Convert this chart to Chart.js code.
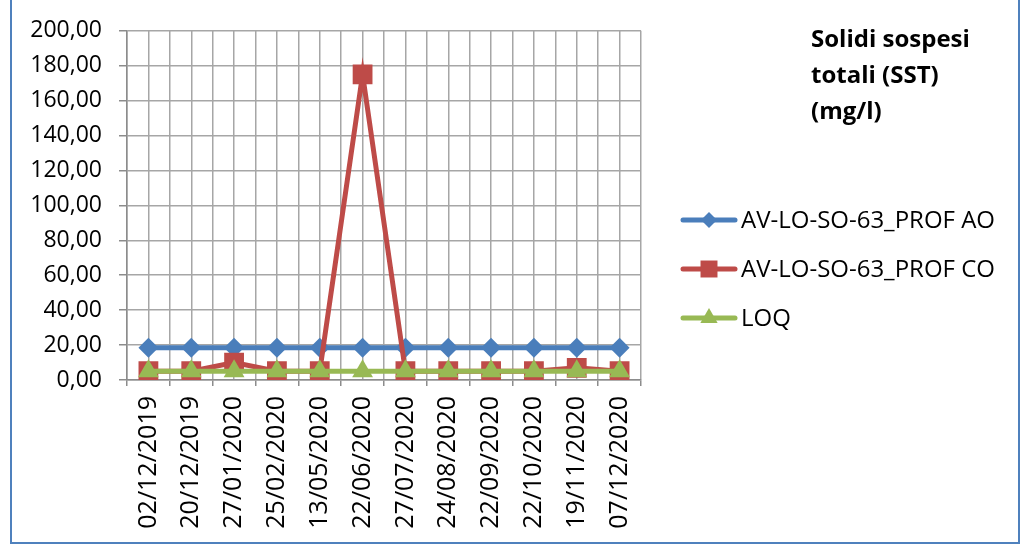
<!doctype html>
<html lang="it">
<head>
    <meta charset="utf-8">
    <title>Solidi sospesi totali (SST)</title>
    <script src="https://cdn.jsdelivr.net/npm/chart.js"></script>
    <style>
        html, body { margin: 0; padding: 0; background: #fff; }
        #wrap { width: 1026px; height: 546px; }
    </style>
</head>
<body>
<div id="wrap"><canvas id="sst" width="1026" height="546"></canvas></div>
<script>
    // date di campionamento
    var dates = ['02/12/2019', '20/12/2019', '27/01/2020', '25/02/2020', '13/05/2020', '22/06/2020',
        '27/07/2020', '24/08/2020', '22/09/2020', '22/10/2020', '19/11/2020', '07/12/2020'];
    var profAO = [18.5, 18.5, 18.5, 18.5, 18.5, 18.5, 18.5, 18.5, 18.5, 18.5, 18.5, 18.5];
    var profCO = [5, 5, 10, 5, 5, 175, 5, 5, 5, 5, 7, 5];
    var loq = [5, 5, 5, 5, 5, 5, 5, 5, 5, 5, 5, 5];
    var titleLines = ['Solidi sospesi', 'totali (SST)', '(mg/l)'];

    var BLUE = '#4A7EBB', RED = '#BE4B48', GREEN = '#98B954', GRID = '#a6a6a6';

    function pts(arr) {
        return arr.map(function (v, i) { return {x: i, y: v}; });
    }

    Chart.defaults.font.family = "'Open Sans', sans-serif";
    Chart.defaults.color = '#000';

    var series = [
        {label: 'AV-LO-SO-63_PROF AO', data: pts(profAO), color: BLUE, style: 'rectRot', r: 10, lr: 8, order: 3},
        {label: 'AV-LO-SO-63_PROF CO', data: pts(profCO), color: RED, style: 'rect', r: 14, lr: 12, order: 2},
        {label: 'LOQ', data: pts(loq), color: GREEN, style: 'triangle', r: 12, lr: 10, order: 1}
    ];

    var sidePanel = {
        id: 'sidePanel',
        afterDraw: function (chart) {
            var ctx = chart.ctx;
            ctx.save();
            // cornice
            ctx.strokeStyle = '#4F81BD';
            ctx.lineWidth = 2;
            ctx.beginPath();
            ctx.moveTo(11, -5);
            ctx.lineTo(11, 543);
            ctx.lineTo(1019, 543);
            ctx.lineTo(1019, -5);
            ctx.stroke();
            // titolo
            ctx.fillStyle = '#000';
            ctx.font = "bold 24px 'Open Sans'";
            ctx.textBaseline = 'alphabetic';
            ctx.textAlign = 'left';
            titleLines.forEach(function (t, i) {
                ctx.fillText(t, 811, 47 + i * 36);
            });
            // legenda
            ctx.font = "24px 'Open Sans'";
            ctx.textBaseline = 'middle';
            series.forEach(function (s, i) {
                var y = 220 + i * 49;
                ctx.strokeStyle = s.color;
                ctx.lineWidth = 5;
                ctx.lineCap = 'round';
                ctx.beginPath();
                ctx.moveTo(683, y);
                ctx.lineTo(735, y);
                ctx.stroke();
                ctx.fillStyle = s.color;
                Chart.helpers.drawPoint(ctx, {pointStyle: s.style, radius: s.lr, rotation: 0, borderWidth: 0}, 709, y);
                ctx.fillStyle = '#000';
                ctx.fillText(s.label, 741, y + 1);
            });
            ctx.restore();
        }
    };

    new Chart(document.getElementById('sst'), {
        type: 'line',
        data: {
            datasets: series.map(function (s) {
                return {
                    label: s.label,
                    data: s.data,
                    borderColor: s.color,
                    backgroundColor: s.color,
                    borderWidth: 5,
                    pointStyle: s.style,
                    pointRadius: s.r,
                    pointBorderWidth: 0,
                    pointBackgroundColor: s.color,
                    tension: 0,
                    order: s.order
                };
            })
        },
        options: {
            responsive: false,
            animation: false,
            layout: {padding: {left: 0, right: 385, top: 26, bottom: 0}},
            plugins: {
                legend: {display: false},
                title: {display: false},
                tooltip: {enabled: false}
            },
            scales: {
                x: {
                    type: 'linear',
                    min: -0.5,
                    max: 11.5,
                    afterBuildTicks: function (scale) {
                        var t = [];
                        for (var v = -0.5; v <= 11.5; v += 0.5) t.push({value: v});
                        scale.ticks = t;
                    },
                    afterFit: function (scale) { scale.height = 166; },
                    grid: {
                        color: GRID,
                        lineWidth: 1.5,
                        tickLength: 6,
                        tickColor: function (c) {
                            return c.tick && Number.isInteger(c.tick.value) ? 'rgba(0,0,0,0)' : '#8c8c8c';
                        }
                    },
                    border: {color: '#8c8c8c', width: 1.5},
                    ticks: {
                        autoSkip: false,
                        minRotation: 90,
                        maxRotation: 90,
                        padding: 10,
                        font: {size: 25},
                        callback: function (v) {
                            return Number.isInteger(v) ? dates[v] : '';
                        }
                    }
                },
                y: {
                    min: 0,
                    max: 200,
                    afterFit: function (scale) { scale.width = 127; },
                    grid: {color: GRID, lineWidth: 1.5, tickLength: 8, tickColor: '#8c8c8c'},
                    border: {color: '#8c8c8c', width: 1.5},
                    ticks: {
                        stepSize: 20,
                        padding: 17,
                        font: {size: 23},
                        callback: function (v) {
                            return v.toFixed(2).replace('.', ',');
                        }
                    }
                }
            }
        },
        plugins: [sidePanel]
    });
</script>
</body>
</html>
